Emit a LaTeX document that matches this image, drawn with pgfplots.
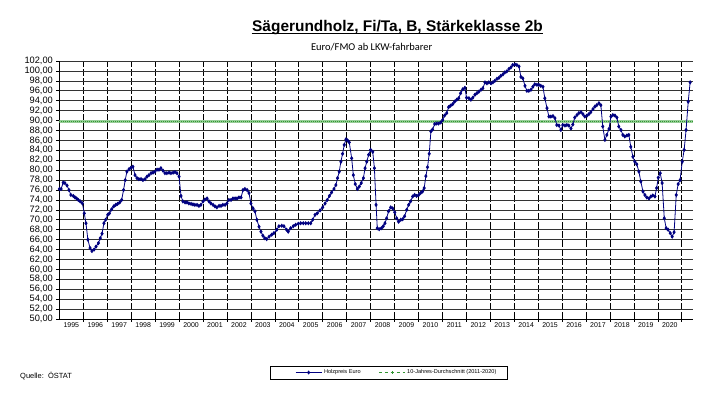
\documentclass[border=0pt]{standalone}
\usepackage{pgfplots}
\pgfplotsset{compat=1.18}
\usepackage{fontspec}
\setmainfont{Liberation Sans}
\newfontfamily\carlito{Carlito}
\definecolor{navy}{RGB}{0,0,128}
\definecolor{avggreen}{RGB}{50,150,50}
\definecolor{avglight}{RGB}{150,205,150}
\begin{document}
\begin{tikzpicture}
\useasboundingbox (0,0) rectangle (720bp,405bp);
\begin{axis}[
  at={(59.4bp,86bp)}, anchor=south west,
  scale only axis, width=633.6bp, height=258bp,
  xmin=1995, xmax=2021.47, ymin=50, ymax=102,
  axis x line=bottom, axis y line=left,
  axis line style={-, black, line width=0.8bp},
  tick align=outside, major tick length=3bp,
  tick style={black, line width=0.6bp},
  xtick={1996,1997,1998,1999,2000,2001,2002,2003,2004,2005,2006,2007,2008,2009,2010,2011,2012,2013,2014,2015,2016,2017,2018,2019,2020,2021},
  xticklabels={},
  extra x ticks={1995.5,1996.5,1997.5,1998.5,1999.5,2000.5,2001.5,2002.5,2003.5,2004.5,2005.5,2006.5,2007.5,2008.5,2009.5,2010.5,2011.5,2012.5,2013.5,2014.5,2015.5,2016.5,2017.5,2018.5,2019.5,2020.5},
  extra x tick labels={1995,1996,1997,1998,1999,2000,2001,2002,2003,2004,2005,2006,2007,2008,2009,2010,2011,2012,2013,2014,2015,2016,2017,2018,2019,2020},
  extra x tick style={major tick length=0pt, grid=none},
  ytick={50,52,...,102},
  grid=major,
  x grid style={black, line width=0.6bp, dash pattern=on 7bp off 2bp},
  y grid style={black!80, line width=0.6bp},
  yticklabel style={font=\fontsize{9.3}{10}\selectfont, /pgf/number format/.cd, fixed, fixed zerofill, precision=2, use comma, assume math mode=true},
  xticklabel style={font=\fontsize{7}{8}\selectfont},
  legend style={at={(0.3719,-0.2074)}, anchor=west, draw=none, fill=none, legend columns=2,
    font=\fontsize{5.6}{6}\selectfont, inner sep=0pt,
    /tikz/every even column/.append style={column sep=16bp}},
  legend image code/.code={\draw[mark repeat=2,mark phase=2,#1] plot coordinates {(0bp,0bp) (13bp,0bp) (26bp,0bp)};},
]
\addlegendimage{navy, line width=0.8bp, mark=diamond*, mark size=1.4bp}
\addlegendentry{Holzpreis Euro}
\addlegendimage{avggreen, dashed, line width=0.6bp, mark=+, mark size=1.4bp}
\addlegendentry{10-Jahres-Durchschnitt (2011-2020)}

\addplot[avglight, line width=2.4bp, forget plot] coordinates {(1995,89.8) (2021.47,89.8)};
\addplot[avggreen, line width=1bp, densely dotted, forget plot] coordinates {(1995,89.8) (2021.47,89.8)};

\addplot[navy, line width=0.8bp, mark=diamond*, mark size=1.5bp, forget plot] coordinates {
(1995.00,76.2) (1995.07,76.2) (1995.16,77.5) (1995.23,77.4) (1995.32,76.9) (1995.40,76.0)
(1995.48,75.0) (1995.58,74.8) (1995.65,74.5) (1995.72,74.3) (1995.79,74.0) (1995.87,73.7)
(1995.96,73.3) (1996.04,71.3) (1996.11,69.3) (1996.19,66.0) (1996.28,64.3) (1996.36,63.7)
(1996.45,64.0) (1996.53,64.6) (1996.63,65.3) (1996.71,66.3) (1996.78,67.2) (1996.86,69.3)
(1996.93,70.0) (1997.02,71.0) (1997.09,71.3) (1997.18,72.1) (1997.27,72.7) (1997.35,73.0)
(1997.43,73.2) (1997.52,73.5) (1997.60,74.0) (1997.68,76.0) (1997.75,78.0) (1997.82,79.7)
(1997.91,80.2) (1997.99,80.5) (1998.07,80.7) (1998.16,79.0) (1998.24,78.4) (1998.32,78.2)
(1998.41,78.2) (1998.49,78.0) (1998.58,78.2) (1998.66,78.7) (1998.74,79.0) (1998.83,79.4)
(1998.91,79.5) (1998.99,79.7) (1999.08,80.1) (1999.16,80.1) (1999.24,80.4) (1999.33,79.9)
(1999.41,79.4) (1999.49,79.4) (1999.58,79.5) (1999.66,79.4) (1999.75,79.5) (1999.83,79.6)
(1999.91,79.4) (2000.00,78.7) (2000.08,74.8) (2000.16,73.7) (2000.25,73.5) (2000.33,73.5)
(2000.41,73.3) (2000.50,73.2) (2000.58,73.1) (2000.66,73.0) (2000.75,73.0) (2000.83,72.8)
(2000.91,73.0) (2001.00,73.7) (2001.08,74.1) (2001.17,74.3) (2001.25,73.7) (2001.33,73.3)
(2001.42,73.0) (2001.50,72.7) (2001.58,72.5) (2001.67,72.8) (2001.75,72.8) (2001.83,73.0)
(2001.92,73.0) (2002.00,73.3) (2002.08,74.0) (2002.17,74.0) (2002.25,74.3) (2002.34,74.3)
(2002.42,74.3) (2002.50,74.5) (2002.59,74.5) (2002.67,76.0) (2002.75,76.2) (2002.84,76.0)
(2002.92,75.4) (2003.00,73.3) (2003.09,72.3) (2003.17,71.7) (2003.25,70.0) (2003.34,68.6)
(2003.42,67.6) (2003.50,66.8) (2003.58,66.3) (2003.66,66.1) (2003.76,66.6) (2003.87,67.0)
(2003.96,67.3) (2004.08,68.0) (2004.17,68.7) (2004.29,68.8) (2004.38,68.7) (2004.49,68.0)
(2004.56,67.6) (2004.66,68.3) (2004.77,68.7) (2004.87,69.0) (2004.98,69.2) (2005.08,69.3)
(2005.19,69.3) (2005.29,69.3) (2005.40,69.3) (2005.50,69.3) (2005.58,70.0) (2005.68,71.0)
(2005.77,71.3) (2005.89,71.9) (2006.00,72.5) (2006.10,73.3) (2006.19,74.0) (2006.28,74.8)
(2006.37,75.5) (2006.47,76.2) (2006.55,77.0) (2006.62,78.4) (2006.69,79.7) (2006.76,81.7)
(2006.83,83.3) (2006.90,85.1) (2006.97,86.2) (2007.04,86.0) (2007.11,85.6) (2007.21,82.4)
(2007.28,79.0) (2007.36,77.2) (2007.45,76.2) (2007.53,76.7) (2007.61,77.4) (2007.70,78.4)
(2007.77,80.4) (2007.84,81.7) (2007.92,83.1) (2008.00,84.1) (2008.09,83.7) (2008.16,80.4)
(2008.23,73.0) (2008.28,68.3) (2008.36,68.1) (2008.45,68.3) (2008.53,68.7) (2008.60,69.3)
(2008.67,70.3) (2008.75,71.7) (2008.84,72.5) (2008.92,72.3) (2009.01,71.5) (2009.09,70.3)
(2009.17,69.6) (2009.26,70.0) (2009.34,70.1) (2009.42,70.7) (2009.51,72.0) (2009.59,73.0)
(2009.67,73.7) (2009.76,74.7) (2009.84,75.0) (2009.92,74.8) (2010.01,75.0) (2010.09,75.4)
(2010.17,75.7) (2010.24,76.4) (2010.31,78.8) (2010.38,80.6) (2010.45,83.3) (2010.52,87.8)
(2010.59,88.2) (2010.68,89.3) (2010.76,89.4) (2010.84,89.4) (2010.93,89.6) (2011.01,90.1)
(2011.09,91.0) (2011.18,91.5) (2011.26,92.7) (2011.34,93.0) (2011.43,93.3) (2011.51,93.8)
(2011.60,94.2) (2011.68,94.5) (2011.76,95.5) (2011.85,96.3) (2011.94,96.6) (2012.01,94.6)
(2012.11,94.5) (2012.19,94.2) (2012.27,94.6) (2012.36,95.2) (2012.44,95.5) (2012.52,95.8)
(2012.61,96.2) (2012.69,96.5) (2012.78,97.7) (2012.86,97.5) (2012.94,97.7) (2013.03,97.5)
(2013.11,97.7) (2013.19,98.0) (2013.28,98.4) (2013.36,98.6) (2013.44,99.0) (2013.53,99.3)
(2013.61,99.7) (2013.69,99.9) (2013.78,100.4) (2013.86,100.7) (2013.94,101.2) (2014.03,101.3)
(2014.11,101.2) (2014.20,100.9) (2014.28,98.8) (2014.36,98.5) (2014.45,97.0) (2014.53,96.0)
(2014.61,96.0) (2014.70,96.2) (2014.78,96.8) (2014.86,97.3) (2014.95,97.2) (2015.03,97.2)
(2015.11,97.0) (2015.20,96.8) (2015.28,94.5) (2015.37,92.5) (2015.45,90.8) (2015.53,90.8)
(2015.62,90.9) (2015.70,90.5) (2015.78,89.1) (2015.87,89.0) (2015.95,88.1) (2016.03,89.1)
(2016.12,89.0) (2016.20,89.1) (2016.28,89.0) (2016.37,88.4) (2016.45,89.2) (2016.53,90.6)
(2016.62,91.1) (2016.70,91.5) (2016.79,91.7) (2016.87,91.3) (2016.95,90.8) (2017.04,91.0)
(2017.12,91.3) (2017.20,91.7) (2017.29,92.3) (2017.37,92.8) (2017.45,93.1) (2017.54,93.5)
(2017.62,93.1) (2017.70,88.8) (2017.79,86.1) (2017.87,87.1) (2017.96,88.3) (2018.04,90.8)
(2018.12,91.1) (2018.21,91.0) (2018.29,90.6) (2018.37,88.8) (2018.46,88.1) (2018.54,87.1)
(2018.62,86.8) (2018.71,87.0) (2018.79,87.1) (2018.87,84.7) (2018.96,82.7) (2019.04,81.7)
(2019.12,81.2) (2019.21,79.7) (2019.29,77.7) (2019.38,75.7) (2019.46,75.0) (2019.54,74.5)
(2019.63,74.3) (2019.71,74.7) (2019.79,74.9) (2019.88,74.7) (2019.95,76.4) (2020.02,78.5)
(2020.10,79.4) (2020.18,77.4) (2020.27,70.3) (2020.35,68.3) (2020.43,68.0) (2020.52,67.3)
(2020.60,66.6) (2020.68,67.5) (2020.77,75.0) (2020.85,77.2) (2020.93,78.0) (2021.02,81.7)
(2021.10,84.1) (2021.18,88.1) (2021.27,93.8) (2021.35,97.7)
};
\end{axis}
\draw[black, line width=0.5bp] (270bp,26bp) rectangle (507bp,39bp);
\node[anchor=base, inner sep=0pt, font=\bfseries\fontsize{15.5}{18}\selectfont] at (397.5bp,373.3bp) {Sägerundholz, Fi/Ta, B, Stärkeklasse 2b};
\draw[line width=1.1bp] (251.7bp,371.3bp) -- (543.3bp,371.3bp);
\node[anchor=base, inner sep=0pt, font=\carlito\fontsize{10.5}{12}\selectfont] at (371.7bp,354.3bp) {Euro/FMO ab LKW-fahrbarer};
\node[anchor=west, inner sep=0pt, font=\fontsize{7.5}{9}\selectfont] at (20bp,29bp) {Quelle:\ \ ÖSTAT};
\end{tikzpicture}
\end{document}
